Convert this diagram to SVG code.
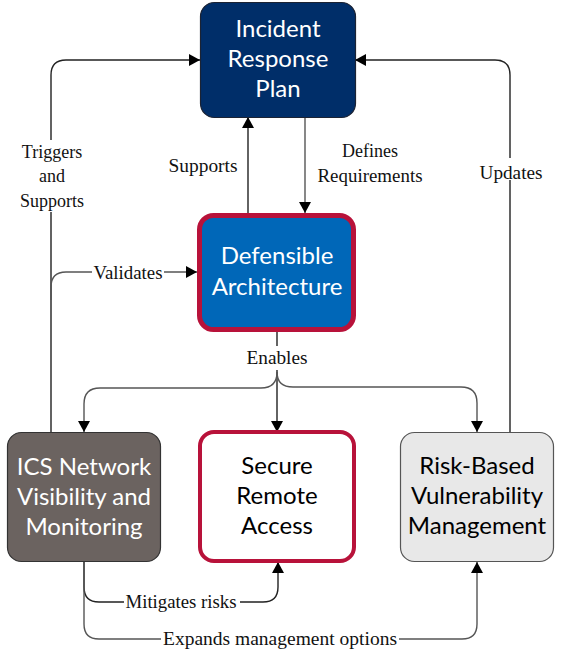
<svg xmlns="http://www.w3.org/2000/svg" width="563" height="663" viewBox="0 0 563 663">
<style>
.node text{font-family:Lato,"Open Sans","DejaVu Sans",sans-serif;font-size:24px;text-anchor:middle}
.lbl{font-family:"Liberation Serif","Times New Roman",serif;font-size:18px;fill:#111;text-anchor:middle}
.c{fill:none;stroke-width:1.4}
.dk{stroke:#222}
.gy{stroke:#555}
.bg{fill:#fff}
</style>
<defs>
<marker id="ah" markerUnits="userSpaceOnUse" markerWidth="12" markerHeight="12" refX="11" refY="6" orient="auto">
<path d="M0,0 L11,6 L0,12 z" fill="#000"/>
</marker>
</defs>
<rect width="563" height="663" fill="#fff"/>
<g id="connectors">
<path class="c dk" d="M51,432 V75 Q51,60 66,60 H200" marker-end="url(#ah)"/>
<path class="c gy" d="M51,300 V287 Q51,272 66,272 H197" marker-end="url(#ah)"/>
<path class="c dk" d="M248,213 V117" marker-end="url(#ah)"/>
<path class="c gy" d="M305,117 V213" marker-end="url(#ah)"/>
<path class="c dk" d="M510,432 V75 Q510,60 495,60 H355" marker-end="url(#ah)"/>
<path class="c dk" d="M277,332 V432" marker-end="url(#ah)"/>
<path class="c gy" d="M277,372 Q277,388 261,388 H100 Q84,388 84,404 V432" marker-end="url(#ah)"/>
<path class="c gy" d="M277,372 Q277,387 293,387 H461 Q477,387 477,403 V432" marker-end="url(#ah)"/>
<path class="c dk" d="M84,562 V587 Q84,602 99,602 H263 Q278,602 278,587 V562" marker-end="url(#ah)"/>
<path class="c gy" d="M84,562 V624 Q84,639 99,639 H462 Q477,639 477,624 V562" marker-end="url(#ah)"/>
<rect class="bg" x="18" y="140" width="68" height="72"/>
<text class="lbl" x="52" y="158">Triggers</text>
<text class="lbl" x="52" y="182">and</text>
<text class="lbl" x="52" y="207">Supports</text>
<rect class="bg" x="92" y="262" width="72" height="20"/>
<text class="lbl" x="128" y="279" textLength="69" lengthAdjust="spacingAndGlyphs">Validates</text>
<text class="lbl" x="203" y="172" textLength="69" lengthAdjust="spacingAndGlyphs">Supports</text>
<text class="lbl" x="370" y="157">Defines</text>
<text class="lbl" x="370" y="182" textLength="105" lengthAdjust="spacingAndGlyphs">Requirements</text>
<rect class="bg" x="478" y="158" width="66" height="22"/>
<text class="lbl" x="511" y="179" textLength="63" lengthAdjust="spacingAndGlyphs">Updates</text>
<rect class="bg" x="245" y="346" width="64" height="24"/>
<text class="lbl" x="277" y="364" textLength="61" lengthAdjust="spacingAndGlyphs">Enables</text>
<rect class="bg" x="124" y="592" width="116" height="20"/>
<text class="lbl" x="181" y="608" textLength="111" lengthAdjust="spacingAndGlyphs">Mitigates risks</text>
<rect class="bg" x="161" y="629" width="238" height="20"/>
<text class="lbl" x="280" y="645" textLength="234" lengthAdjust="spacingAndGlyphs">Expands management options</text>
</g>
<g id="irp" class="node">
<rect x="200.5" y="2.5" width="155" height="115" rx="14" fill="#002e69" stroke="#1c2333" stroke-width="1.2"/>
<text x="278" y="37" fill="#fff">Incident</text>
<text x="278" y="67" fill="#fff">Response</text>
<text x="278" y="97" fill="#fff">Plan</text>
</g>
<g id="da" class="node">
<rect x="199.5" y="215.5" width="154" height="114" rx="14" fill="#0067b8" stroke="#b8123a" stroke-width="5"/>
<text x="277" y="264" fill="#fff">Defensible</text>
<text x="277" y="295" fill="#fff">Architecture</text>
</g>
<g id="ics" class="node">
<rect x="7.5" y="432.5" width="153" height="129" rx="14" fill="#6b6360" stroke="#333" stroke-width="1.2"/>
<text x="84" y="475" fill="#fff">ICS Network</text>
<text x="84" y="505" fill="#fff">Visibility and</text>
<text x="84" y="535" fill="#fff">Monitoring</text>
</g>
<g id="sra" class="node">
<rect x="200" y="432" width="154" height="129" rx="14" fill="#fff" stroke="#b8123a" stroke-width="4"/>
<text x="277" y="474" fill="#000">Secure</text>
<text x="277" y="504" fill="#000">Remote</text>
<text x="277" y="534" fill="#000">Access</text>
</g>
<g id="rbvm" class="node">
<rect x="400.5" y="432.5" width="153" height="129" rx="14" fill="#e8e8e8" stroke="#555" stroke-width="1.2"/>
<text x="477" y="474" fill="#000">Risk-Based</text>
<text x="477" y="504" fill="#000">Vulnerability</text>
<text x="477" y="534" fill="#000">Management</text>
</g>
</svg>
